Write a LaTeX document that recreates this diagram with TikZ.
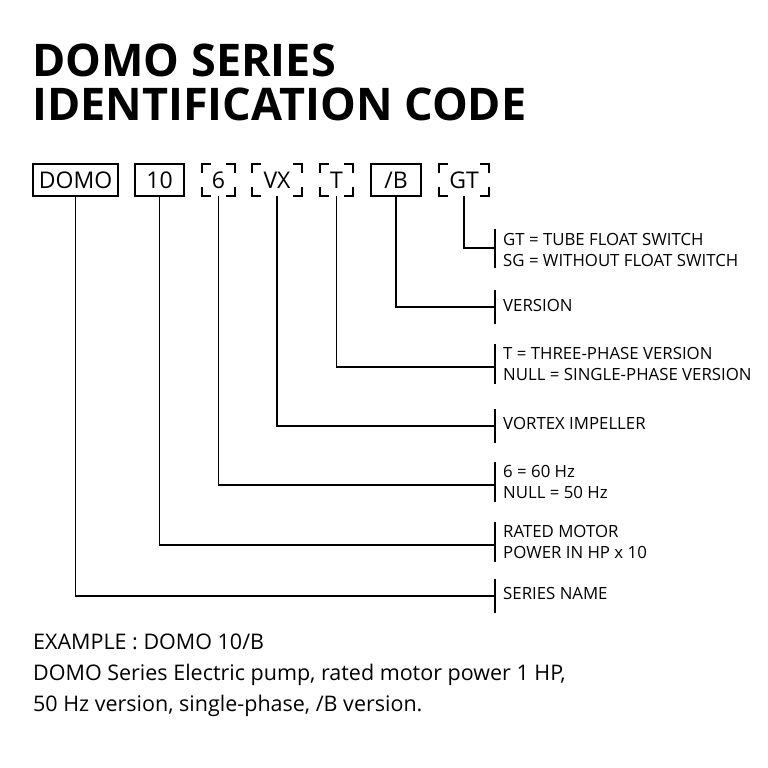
\documentclass[tikz,border=0pt]{standalone}
\usepackage{fontspec}
\setmainfont{Open Sans}
\begin{document}
\begin{tikzpicture}[x=1pt,y=-1pt,
  lbl/.style={anchor=west,font=\fontsize{16.8}{21.5}\selectfont,align=left,inner sep=0pt},
  code/.style={font=\fontsize{23}{23}\selectfont,inner sep=0pt},
  ln/.style={line width=1.2pt}]
\useasboundingbox (0,0) rectangle (768,768);
\node[anchor=west,inner sep=0pt,font=\fontsize{45}{48}\selectfont\bfseries] (t1) at (32,60) {DOMO SERIES};
\node[anchor=west,inner sep=0pt,font=\fontsize{45}{48}\selectfont\bfseries] (t2) at (32,104) {IDENTIFICATION CODE};
% boxes
\newcommand{\solidbox}[4]{\draw[ln] (#1,164) rectangle (#2,196); \node[code] (#3) at ({(#1+#2)/2},180) {#4};
  \coordinate (#3b) at ({(#1+#2)/2},196);}
\newcommand{\cornerbox}[4]{
  \draw[ln] (#1,173)--(#1,164)--({#1+9},164) ({#2-9},164)--(#2,164)--(#2,173)
     (#1,187)--(#1,196)--({#1+9},196) ({#2-9},196)--(#2,196)--(#2,187);
  \node[code] (#3) at ({(#1+#2)/2},180) {#4}; \coordinate (#3b) at ({(#1+#2)/2},196);}
\solidbox{33}{118}{domo}{DOMO}
\solidbox{135}{184}{ten}{10}
\cornerbox{202}{235}{six}{6}
\cornerbox{252}{302}{vx}{VX}
\cornerbox{320}{353}{t}{T}
\solidbox{371}{421}{b}{/B}
\cornerbox{439}{489}{gt}{GT}
% labels
\node[lbl] (Lgt) at (503,250) {GT = TUBE FLOAT SWITCH\\SG = WITHOUT FLOAT SWITCH};
\node[lbl] (Lb) at (503,305) {VERSION};
\node[lbl] (Lt) at (503,364) {T = THREE-PHASE VERSION\\NULL = SINGLE-PHASE VERSION};
\node[lbl] (Lvx) at (503,423) {VORTEX IMPELLER};
\node[lbl] (Lsix) at (503,482) {6 = 60 Hz\\NULL = 50 Hz};
\node[lbl] (Lten) at (503,542) {RATED MOTOR\\POWER IN HP x 10};
\node[lbl] (Ldomo) at (503,593) {SERIES NAME};
% bars and leaders
\foreach \n/\y/\a/\b in {gt/248/229/268, b/307/290/324, t/367/344/384, vx/426/409/443, six/485/462/502, ten/545/522/562, domo/596/579/613}{
  \coordinate (j\n) at (495,\y);
  \draw[ln] (495,\a) -- (495,\b);
  \draw[ln] (\n b) |- (j\n);
}
\node[anchor=north west,inner sep=0pt,align=left,font=\fontsize{21.5}{31}\selectfont] (ex) at (33,634)
 {EXAMPLE : DOMO 10/B\\DOMO Series Electric pump, rated motor power 1 HP,\\50 Hz version, single-phase, /B version.};
\end{tikzpicture}
\end{document}
